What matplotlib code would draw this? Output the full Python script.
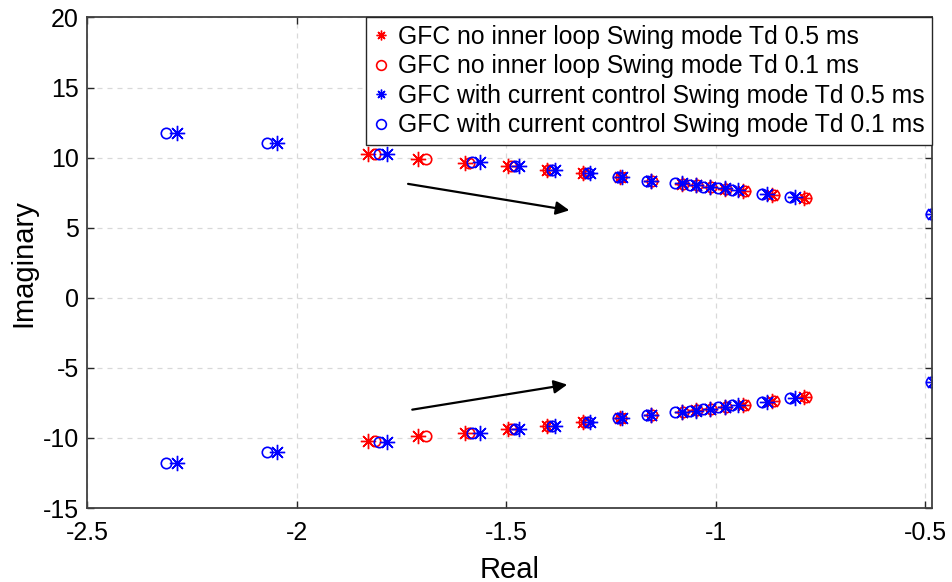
import numpy as np
import matplotlib.pyplot as plt

# Swing mode eigenvalues (upper half; lower half is the conjugate)
# GFC no inner loop, Td 0.5 ms
red_05_re = [-1.831, -1.710, -1.599, -1.495, -1.404, -1.318, -1.229, -1.155,
             -1.081, -1.047, -1.014, -0.978, -0.934, -0.866, -0.790]
red_05_im = [10.23, 9.89, 9.63, 9.39, 9.11, 8.87, 8.59, 8.35,
             8.14, 8.02, 7.90, 7.78, 7.63, 7.33, 7.09]
# GFC no inner loop, Td 0.1 ms
red_01_re = [-1.813, -1.692, -1.590, -1.490, -1.400, -1.314, -1.226, -1.152,
             -1.078, -1.044, -1.011, -0.975, -0.931, -0.860, -0.785]
red_01_im = [10.23, 9.89, 9.63, 9.39, 9.11, 8.87, 8.59, 8.35,
             8.14, 8.02, 7.90, 7.78, 7.63, 7.33, 7.09]
# GFC with current control, Td 0.5 ms
blue_05_re = [-2.285, -2.048, -1.784, -1.563, -1.469, -1.384, -1.300, -1.225,
              -1.155, -1.081, -1.047, -1.014, -0.978, -0.948, -0.877, -0.811, -0.482]
blue_05_im = [11.77, 11.01, 10.27, 9.66, 9.39, 9.11, 8.87, 8.59,
              8.35, 8.16, 8.04, 7.92, 7.80, 7.68, 7.40, 7.16, 5.97]
# GFC with current control, Td 0.1 ms
blue_01_re = [-2.312, -2.072, -1.805, -1.583, -1.479, -1.392, -1.305, -1.234,
              -1.165, -1.097, -1.062, -1.030, -0.994, -0.962, -0.890, -0.823, -0.486]
blue_01_im = [11.77, 11.01, 10.27, 9.66, 9.39, 9.11, 8.87, 8.59,
              8.35, 8.16, 8.04, 7.92, 7.80, 7.68, 7.40, 7.16, 5.97]

labels = ['GFC no inner loop Swing mode Td 0.5 ms',
          'GFC no inner loop Swing mode Td 0.1 ms',
          'GFC with current control Swing mode Td 0.5 ms',
          'GFC with current control Swing mode Td 0.1 ms']

plt.rcParams['font.family'] = ['Liberation Sans', 'DejaVu Sans']

fig = plt.figure(figsize=(9.53, 5.82), dpi=100)
ax = fig.add_axes([0.0916, 0.127, 0.8864, 0.843])

star = (8, 2, 0)
series = [
    (red_05_re, red_05_im, 'r', star, labels[0]),
    (red_01_re, red_01_im, 'r', 'o', labels[1]),
    (blue_05_re, blue_05_im, 'b', star, labels[2]),
    (blue_01_re, blue_01_im, 'b', 'o', labels[3]),
]
for re, im, c, m, lab in series:
    re = np.array(re)
    im = np.array(im)
    x = np.concatenate([re, re])
    y = np.concatenate([im, -im])
    if m == 'o':
        ax.plot(x, y, ls='none', marker='o', ms=7.5, mfc='none', mec=c, mew=1.2, label=lab)
    else:
        ax.plot(x, y, ls='none', marker=m, ms=11, mec=c, mew=1.0, label=lab)

# arrows showing direction
ax.annotate('', xy=(-1.343, 6.21), xytext=(-1.741, 8.16),
            arrowprops=dict(arrowstyle='-|>', color='black', lw=1.6, mutation_scale=20))
ax.annotate('', xy=(-1.348, -6.16), xytext=(-1.731, -8.01),
            arrowprops=dict(arrowstyle='-|>', color='black', lw=1.6, mutation_scale=20))

ax.set_xlim(-2.5, -0.484)
ax.set_ylim(-15, 20)
ax.set_xticks([-2.5, -2, -1.5, -1, -0.5])
ax.set_xticklabels(['-2.5', '-2', '-1.5', '-1', '-0.5'])
ax.set_yticks([-15, -10, -5, 0, 5, 10, 15, 20])
ax.set_yticklabels(['-15', '-10', '-5', '0', '5', '10', '15', '20'])
ax.tick_params(direction='in', length=5, width=1, top=True, right=True,
               labelsize=18, colors='#262626', labelcolor='black')
ax.tick_params(axis='x', pad=9)
ax.tick_params(axis='y', pad=6)
ax.grid(True, ls=(0, (4, 4)), color='#d9d9d9', lw=0.9)
for s in ax.spines.values():
    s.set_color('#404040')
    s.set_linewidth(1.3)

ax.set_xlabel('Real', fontsize=21, labelpad=8)
ax.set_ylabel('Imaginary', fontsize=21, labelpad=4)

leg = ax.legend(loc='upper right', fontsize=17.8, borderaxespad=0, handlelength=0.6,
                handletextpad=0.4, labelspacing=0.22, borderpad=0.3, fancybox=False,
                framealpha=1, edgecolor='#262626')
leg.get_frame().set_linewidth(1.0)
for h in leg.legend_handles:
    h.set_markersize(7)

fig.savefig('out.png', dpi=100)
